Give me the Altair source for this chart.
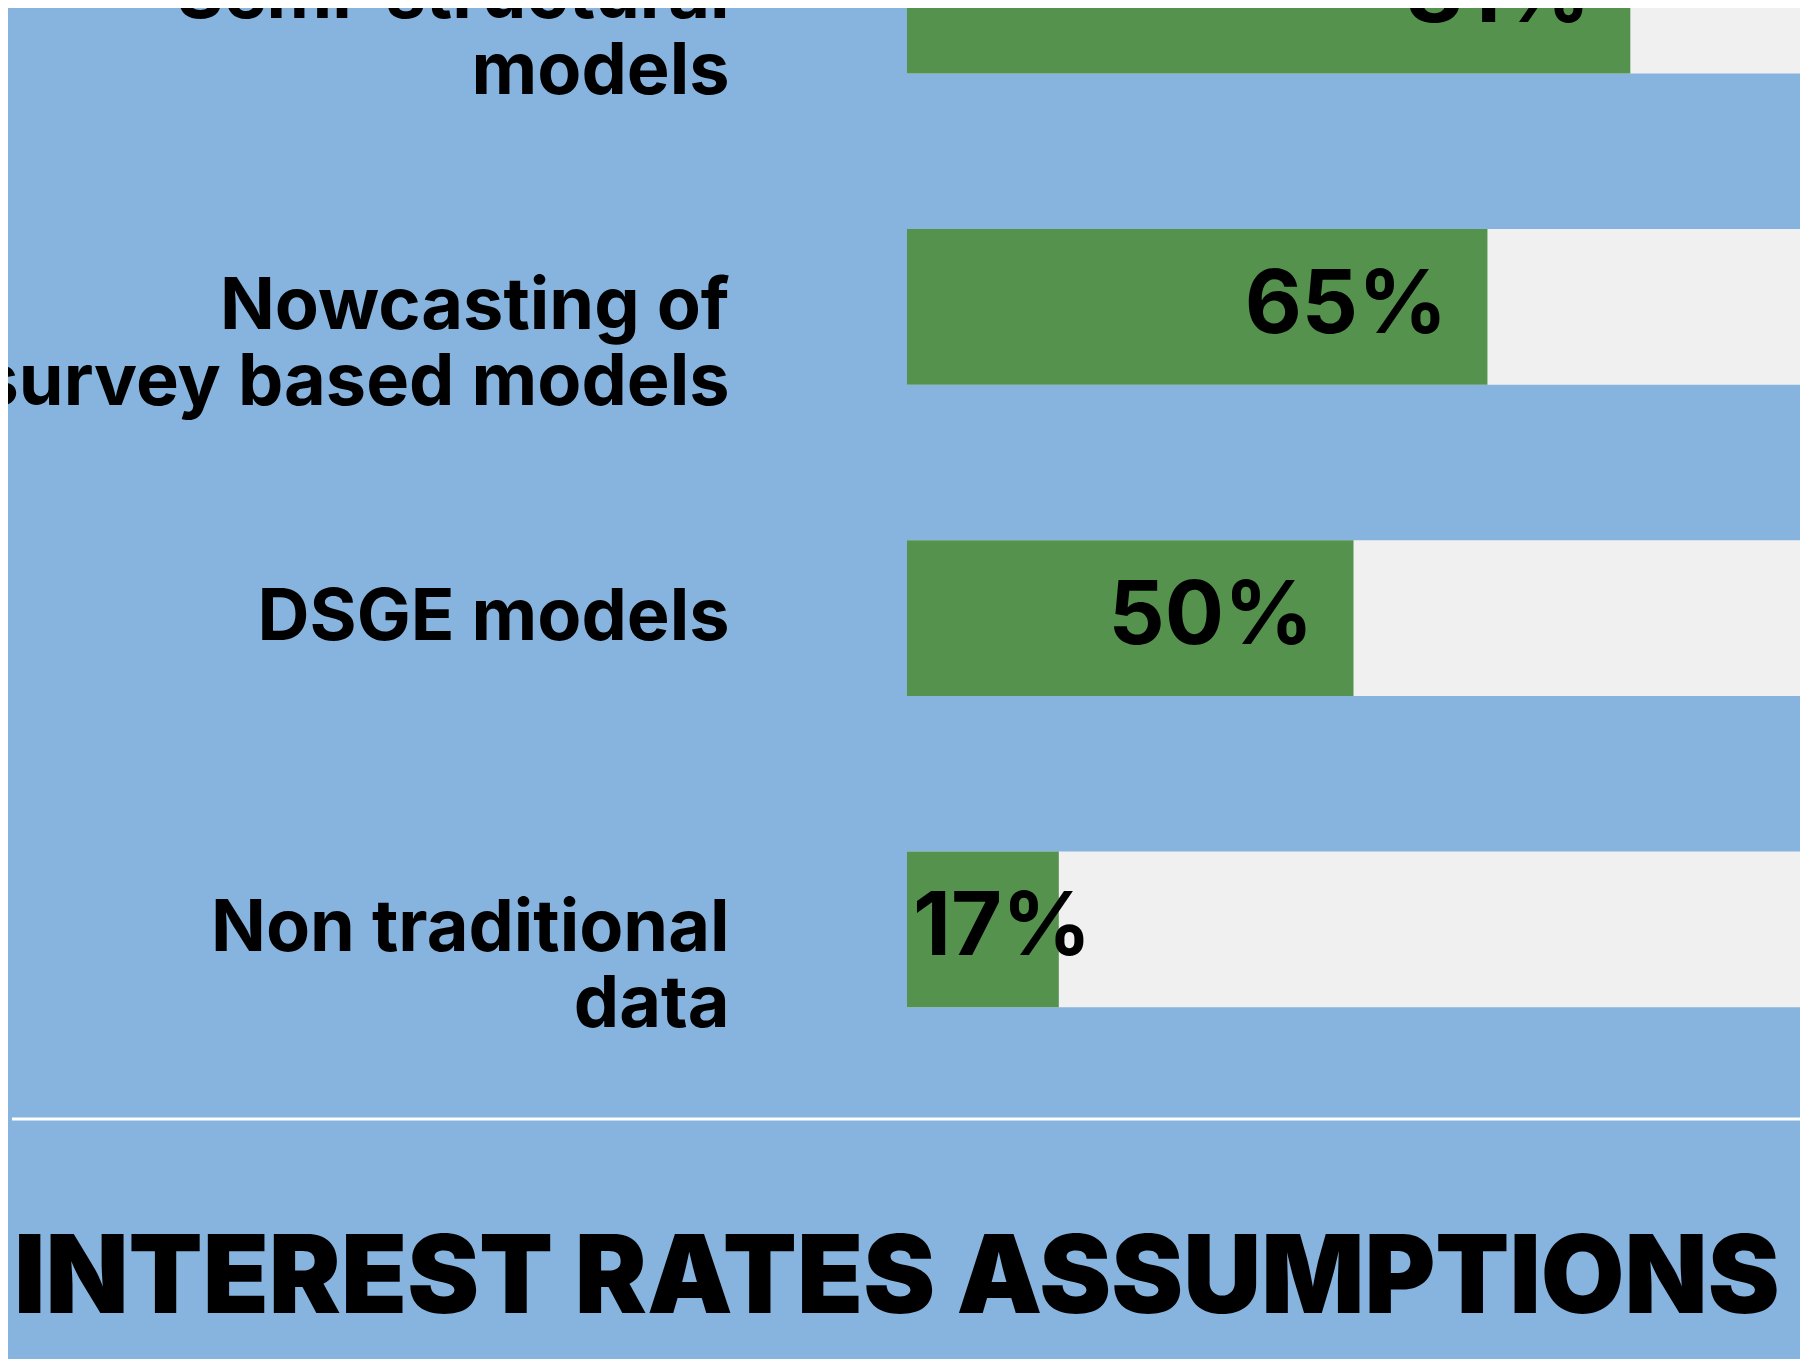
import altair as alt
import pandas as pd

# Data
categories = [
    "Semi-structural|models",
    "Nowcasting of|survey based models",
    "DSGE models",
    "Non traditional|data",
]
values = [81, 65, 50, 17]
full_scale = [100, 100, 100, 100]
title_text = ["INTEREST RATES ASSUMPTIONS"]

BG = "#86b4de"
GREEN = "#55924e"
GRAY = "#f0f0f0"
FONT = "Inter"

df = pd.DataFrame({"category": categories, "value": values, "full": full_scale})
df["label"] = df["value"].astype(str) + "%"

y_enc = alt.Y(
    "category:N",
    sort=categories,
    scale=alt.Scale(range=[-168, 1077], paddingInner=0.5, paddingOuter=0.25),
    axis=alt.Axis(
        title=None,
        domain=False,
        ticks=False,
        tickSize=0,
        labelPadding=178,
        labelFont=FONT,
        labelFontSize=72,
        labelFontWeight=700,
        labelColor="#000000",
        labelAlign="right",
        labelBaseline="middle",
        labelLineHeight=76,
        labelLimit=0,
        labelExpr="split(datum.label, '|')",
    ),
)
x_scale = alt.Scale(domain=[0, 100], nice=False, zero=True)

base = alt.Chart(df)

gray = base.mark_bar(color=GRAY).encode(
    x=alt.X("full:Q", scale=x_scale, axis=None),
    y=y_enc,
)
green = base.mark_bar(color=GREEN).encode(
    x=alt.X("value:Q", scale=x_scale, axis=None),
    y=y_enc,
)
text_in = base.transform_filter("datum.value >= 30").mark_text(
    align="right", baseline="middle", dx=-40, font=FONT, fontSize=88,
    fontWeight=700, color="#000000",
).encode(
    x=alt.X("value:Q", scale=x_scale, axis=None),
    y=y_enc,
    text="label:N",
)
text_small = base.transform_calculate(zero="0").transform_filter(
    "datum.value < 30"
).mark_text(
    align="left", baseline="middle", dx=6, font=FONT, fontSize=88,
    fontWeight=700, color="#000000",
).encode(
    x=alt.X("zero:Q", scale=x_scale, axis=None),
    y=y_enc,
    text="label:N",
)

sep = alt.Chart(pd.DataFrame({"k": [0]})).mark_rule(
    color="#ffffff", strokeWidth=3
).encode(
    x=alt.value(-895), x2=alt.value(893), y=alt.value(1111)
)

heading = alt.Chart(pd.DataFrame({"t": title_text})).mark_text(
    align="left", baseline="alphabetic", font=FONT, fontSize=108,
    fontWeight=900, color="#000000",
).encode(
    text="t:N", x=alt.value(-893), y=alt.value(1305)
)

chart = alt.layer(gray, green, text_in, text_small, sep, heading).properties(
    width=893,
    height=1077,
    padding={"left": 899, "top": 0, "right": 0, "bottom": 274},
    autosize=alt.AutoSizeParams(type="none"),
    background=BG,
).configure_view(stroke=None)

chart.save("out.html", embed_options={"renderer": "svg", "actions": False})
